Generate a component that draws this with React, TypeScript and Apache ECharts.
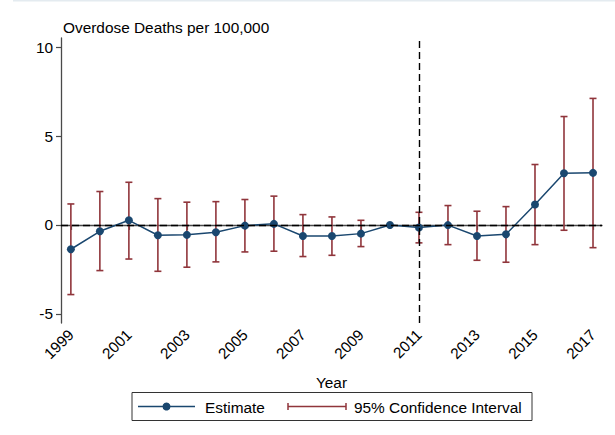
import React, { useEffect, useRef } from "react";
import * as echarts from "echarts";

const years = [1999, 2000, 2001, 2002, 2003, 2004, 2005, 2006, 2007, 2008, 2009, 2010, 2011, 2012, 2013, 2014, 2015, 2016, 2017];
const estimates = [-1.37, -0.36, 0.26, -0.58, -0.56, -0.41, -0.04, 0.06, -0.62, -0.62, -0.49, 0, -0.15, -0.01, -0.62, -0.53, 1.15, 2.91, 2.93];
const ciHigh = [1.18, 1.88, 2.4, 1.48, 1.28, 1.31, 1.43, 1.62, 0.58, 0.45, 0.26, null, 0.71, 1.09, 0.77, 1.03, 3.4, 6.1, 7.12];
const ciLow = [-3.92, -2.57, -1.92, -2.61, -2.38, -2.08, -1.52, -1.48, -1.78, -1.71, -1.22, null, -1.01, -1.11, -1.99, -2.1, -1.11, -0.3, -1.28];
const xTickYears = [1999, 2001, 2003, 2005, 2007, 2009, 2011, 2013, 2015, 2017];
const yTicks = [-5, 0, 5, 10];
const policyYear = 2011;

const NAVY = "#1a476f";
const MAROON = "#90353b";
const AXIS = "#4a4a4a";
const FONT = "'Liberation Sans', Arial, sans-serif";
const FS = 15.4;

export default function App() {
  const ref = useRef<HTMLDivElement>(null);
  useEffect(() => {
    if (!ref.current) return;
    const chart = echarts.init(ref.current, undefined, { renderer: "svg" });
    const ciData = years
      .map((y, i) => [y, ciLow[i], ciHigh[i]])
      .filter((d) => d[1] !== null && d[2] !== null);
    const lineData = years.map((y, i) => [y, estimates[i]]);
    const capW = 3.5;
    chart.setOption({
      animation: false,
      textStyle: { fontFamily: FONT },
      grid: { left: 61, right: 13, top: 38, bottom: 112, containLabel: false },
      xAxis: {
        type: "value",
        min: 1998.66,
        max: 2017.31,
        name: "Year",
        nameLocation: "middle",
        nameGap: 52,
        nameTextStyle: { fontSize: FS, color: "#000", fontFamily: FONT },
        axisLine: { show: true, lineStyle: { color: AXIS, width: 1.3 } },
        axisTick: { show: true, length: 5, customValues: xTickYears, lineStyle: { color: AXIS, width: 1.2 } },
        axisLabel: {
          customValues: xTickYears,
          rotate: 45,
          margin: 9,
          fontSize: FS,
          color: "#000",
          fontFamily: FONT,
          formatter: (v: number) => String(v),
        },
        splitLine: { show: false },
      },
      yAxis: {
        type: "value",
        min: -5.52,
        max: 10.52,
        axisLine: { show: true, lineStyle: { color: AXIS, width: 1.3 } },
        axisTick: { show: true, length: 5, customValues: yTicks, lineStyle: { color: AXIS, width: 1.2 } },
        axisLabel: { customValues: yTicks, margin: 8, fontSize: FS, color: "#000", fontFamily: FONT },
        splitLine: { show: false },
      },
      series: [
        {
          type: "custom",
          name: "95% Confidence Interval",
          data: ciData,
          z: 2,
          renderItem: (params: any, api: any) => {
            const x = api.value(0);
            const lo = api.coord([x, api.value(1)]);
            const hi = api.coord([x, api.value(2)]);
            const style = { stroke: MAROON, lineWidth: 1.6 };
            return {
              type: "group",
              children: [
                { type: "line", shape: { x1: lo[0], y1: lo[1], x2: hi[0], y2: hi[1] }, style },
                { type: "line", shape: { x1: lo[0] - capW, y1: lo[1], x2: lo[0] + capW, y2: lo[1] }, style },
                { type: "line", shape: { x1: hi[0] - capW, y1: hi[1], x2: hi[0] + capW, y2: hi[1] }, style },
              ],
            };
          },
          markLine: {
            silent: true,
            symbol: "none",
            label: { show: false },
            lineStyle: { color: "#000", type: [7, 4], width: 1.4 },
            data: [{ yAxis: 0 }, { xAxis: policyYear }],
          },
        },
        {
          type: "line",
          name: "Estimate",
          data: lineData,
          z: 3,
          symbol: "circle",
          symbolSize: 8,
          lineStyle: { color: NAVY, width: 1.5 },
          itemStyle: { color: NAVY },
        },
      ],
      graphic: [
        { type: "line", shape: { x1: 13, y1: 0.75, x2: 615, y2: 0.75 }, style: { stroke: "#e4ebf0", lineWidth: 1.5 } },
        {
          type: "text",
          x: 63,
          y: 27,
          style: { text: "Overdose Deaths per 100,000", fontSize: FS, fontFamily: FONT, fill: "#000", verticalAlign: "middle", align: "left" },
        },
        { type: "rect", shape: { x: 132, y: 392.5, width: 400, height: 28 }, style: { fill: "#fff", stroke: "#333", lineWidth: 1 } },
        { type: "line", shape: { x1: 138, y1: 406.5, x2: 195, y2: 406.5 }, style: { stroke: NAVY, lineWidth: 1.5 } },
        { type: "circle", shape: { cx: 166.5, cy: 406.5, r: 4 }, style: { fill: NAVY } },
        {
          type: "text",
          x: 205,
          y: 407,
          style: { text: "Estimate", fontSize: FS, fontFamily: FONT, fill: "#000", verticalAlign: "middle", align: "left" },
        },
        { type: "line", shape: { x1: 288, y1: 406.5, x2: 346, y2: 406.5 }, style: { stroke: MAROON, lineWidth: 1.5 } },
        { type: "line", shape: { x1: 288, y1: 403, x2: 288, y2: 410 }, style: { stroke: MAROON, lineWidth: 1.5 } },
        { type: "line", shape: { x1: 346, y1: 403, x2: 346, y2: 410 }, style: { stroke: MAROON, lineWidth: 1.5 } },
        {
          type: "text",
          x: 354,
          y: 407,
          style: { text: "95% Confidence Interval", fontSize: FS, fontFamily: FONT, fill: "#000", verticalAlign: "middle", align: "left" },
        },
      ],
    });
    return () => chart.dispose();
  }, []);
  return (
    <div
      ref={ref}
      style={{ position: "fixed", left: 0, top: 0, width: 615, height: 435, background: "#fff" }}
    />
  );
}
